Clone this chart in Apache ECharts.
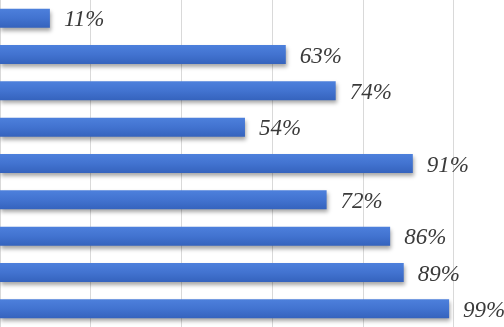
<!DOCTYPE html>
<html>
<head>
<meta charset="utf-8">
<script src="https://cdn.jsdelivr.net/npm/echarts@6/dist/echarts.min.js"></script>
<style>
  html, body { margin: 0; padding: 0; background: #fff; }
  #chart { width: 504px; height: 327px; }
</style>
</head>
<body>
<div id="chart"></div>
<script>
// values, top to bottom
var categories = ['A', 'B', 'C', 'D', 'E', 'F', 'G', 'H', 'I'];
var values = [11, 63, 74, 54, 91, 72, 86, 89, 99];

var chart = echarts.init(document.getElementById('chart'));

var option = {
    animation: false,
    backgroundColor: '#ffffff',
    grid: { left: 0, right: 0, top: -3, bottom: 0, containLabel: false },
    xAxis: {
        type: 'value',
        min: 0,
        max: 111.1,
        interval: 20,
        axisLabel: { show: false },
        axisLine: { show: false },
        axisTick: { show: false },
        splitLine: { show: true, lineStyle: { color: '#d9d9d9', width: 1 } }
    },
    yAxis: {
        type: 'category',
        data: categories,
        inverse: true,
        axisLabel: { show: false },
        axisLine: { show: false },
        axisTick: { show: false }
    },
    series: [{
        type: 'bar',
        data: values,
        barWidth: 19,
        itemStyle: {
            color: new echarts.graphic.LinearGradient(0, 0, 0, 1, [
                { offset: 0, color: '#4d80dc' },
                { offset: 0.5, color: '#4273d0' },
                { offset: 1, color: '#3563bd' }
            ]),
            shadowColor: 'rgba(0, 0, 0, 0.35)',
            shadowBlur: 4,
            shadowOffsetY: 3,
            shadowOffsetX: 1
        },
        label: {
            show: true,
            position: 'right',
            distance: 14,
            offset: [0, 2],
            formatter: '{c}%',
            fontFamily: 'Liberation Serif',
            fontStyle: 'italic',
            fontSize: 23,
            color: '#3a3a3a'
        }
    }]
};

chart.setOption(option);
</script>
</body>
</html>
